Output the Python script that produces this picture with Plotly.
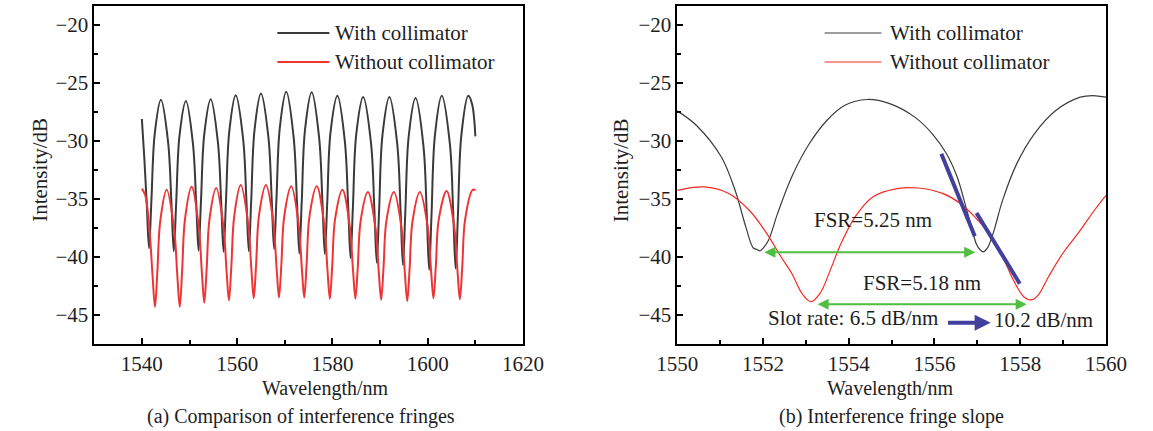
import plotly.graph_objects as go

# ---------------- data ----------------
# (a) full range, with collimator (black)
bx1 = [1540.0, 1540.5, 1541.0,
       1541.5, 1542.0, 1542.7, 1544.0, 1545.5, 1546.2,
       1546.7, 1547.2, 1547.9, 1549.25, 1550.7, 1551.4,
       1551.9, 1552.4, 1553.1, 1554.45, 1555.95, 1556.65,
       1557.15, 1557.65, 1558.35, 1559.7, 1561.25, 1561.95,
       1562.45, 1562.95, 1563.65, 1565.0, 1566.55, 1567.25,
       1567.75, 1568.25, 1568.95, 1570.3, 1571.85, 1572.55,
       1573.05, 1573.55, 1574.25, 1575.65, 1577.2, 1577.9,
       1578.4, 1578.9, 1579.6, 1581.05, 1582.6, 1583.3,
       1583.8, 1584.3, 1585.0, 1586.45, 1588.1, 1588.8,
       1589.3, 1589.8, 1590.5, 1591.95, 1593.6, 1594.3,
       1594.8, 1595.3, 1596.0, 1597.45, 1599.1, 1599.8,
       1600.3, 1600.8, 1601.5, 1602.95, 1604.65, 1605.35,
       1605.85, 1606.35, 1607.05, 1608.5, 1609.3, 1610.0]
by1 = [-28.1, -31.4, -35.2,
       -39.25, -35.15, -29.39, -26.45, -30.1, -35.32,
       -39.5, -35.36, -29.53, -26.55, -30.16, -35.32,
       -39.45, -35.27, -29.4, -26.4, -30.08, -35.34,
       -39.55, -35.23, -29.16, -26.05, -29.82, -35.2,
       -39.5, -35.15, -29.03, -25.9, -29.65, -35.01,
       -39.3, -34.96, -28.87, -25.75, -29.66, -35.24,
       -39.7, -35.25, -29.0, -25.8, -29.71, -35.29,
       -39.75, -35.38, -29.24, -26.1, -30.02, -35.62,
       -40.1, -35.65, -29.4, -26.2, -30.2, -35.92,
       -40.5, -35.92, -29.49, -26.2, -30.26, -36.06,
       -40.7, -36.09, -29.61, -26.3, -30.44, -36.36,
       -41.1, -36.3, -29.55, -26.1, -30.27, -36.23,
       -41.0, -36.23, -29.53, -26.1, -26.8, -29.6]

# (a) full range, without collimator (red)
rx1 = [1540.0, 1540.7, 1541.55, 1542.25,
       1542.75, 1543.25, 1543.85, 1545.2, 1546.75, 1547.45,
       1547.95, 1548.45, 1549.05, 1550.45, 1551.9, 1552.6,
       1553.1, 1553.6, 1554.2, 1555.6, 1557.08, 1557.78,
       1558.28, 1558.78, 1559.38, 1560.75, 1562.28, 1562.98,
       1563.48, 1563.98, 1564.58, 1566.05, 1567.58, 1568.28,
       1568.78, 1569.28, 1569.88, 1571.35, 1572.88, 1573.58,
       1574.08, 1574.58, 1575.18, 1576.7, 1578.25, 1578.95,
       1579.45, 1579.95, 1580.55, 1582.1, 1583.62, 1584.32,
       1584.82, 1585.32, 1585.92, 1587.45, 1589.02, 1589.72,
       1590.22, 1590.72, 1591.32, 1592.9, 1594.5, 1595.2,
       1595.7, 1596.2, 1596.8, 1598.35, 1600.0, 1600.7,
       1601.2, 1601.7, 1602.3, 1603.95, 1605.55, 1606.25,
       1606.75, 1607.25, 1607.85, 1609.45, 1610.0]
ry1 = [-34.1, -34.66, -37.43, -41.64,
       -44.3, -41.27, -36.93, -34.2, -37.53, -41.67,
       -44.3, -41.2, -36.74, -33.95, -37.25, -41.35,
       -43.95, -40.98, -36.72, -34.05, -37.25, -41.23,
       -43.75, -40.77, -36.49, -33.8, -37.02, -41.02,
       -43.56, -40.63, -36.43, -33.8, -37.0, -40.98,
       -43.5, -40.62, -36.49, -33.9, -37.07, -41.0,
       -43.5, -40.62, -36.49, -33.9, -37.1, -41.08,
       -43.6, -40.78, -36.74, -34.2, -37.3, -41.16,
       -43.6, -40.84, -36.88, -34.4, -37.47, -41.28,
       -43.7, -40.91, -36.91, -34.4, -37.5, -41.36,
       -43.8, -40.98, -36.94, -34.4, -37.42, -41.18,
       -43.56, -40.78, -36.8, -34.3, -37.39, -41.22,
       -43.65, -40.82, -36.75, -34.2, -34.25]

# (b) zoomed range, with collimator (black)
bx2 = [1550.0, 1550.45, 1551.03, 1551.35, 1551.6, 1551.77, 1551.86, 1551.93,
       1552.0, 1552.13, 1552.34, 1552.67, 1553.08, 1553.49, 1553.9, 1554.43,
       1554.97, 1555.54, 1555.95, 1556.28, 1556.53, 1556.69, 1556.86, 1556.98,
       1557.07, 1557.14, 1557.22, 1557.27, 1557.39, 1557.59, 1557.92, 1558.33,
       1558.83, 1559.4, 1559.69, 1560.0]
by2 = [-27.4, -28.66, -31.38, -34.25, -37.4, -39.2, -39.35, -39.47,
       -39.25, -38.55, -36.26, -33.1, -30.24, -28.23, -26.94, -26.42,
       -26.8, -27.94, -29.38, -31.1, -33.1, -35.1, -37.4, -38.9,
       -39.4, -39.55, -39.3, -38.98, -37.7, -35.1, -31.95, -29.38,
       -27.37, -26.22, -26.08, -26.22]

# (b) zoomed range, without collimator (red)
rx2 = [1550.0, 1550.62, 1551.19, 1551.68, 1552.09, 1552.42, 1552.67, 1552.91,
       1553.12, 1553.33, 1553.57, 1553.82, 1554.15, 1554.56, 1555.13, 1555.62,
       1556.2, 1556.61, 1556.94, 1557.27, 1557.59, 1557.84, 1558.08, 1558.25,
       1558.42, 1558.66, 1558.99, 1559.4, 1559.73, 1560.0]
ry2 = [-34.25, -33.96, -34.5, -35.97, -37.98, -39.98, -41.4, -43.14,
       -43.85, -43.14, -41.13, -38.84, -36.54, -34.82, -34.1, -34.05,
       -34.54, -35.4, -36.54, -37.98, -39.98, -41.99, -43.42, -43.7,
       -43.28, -41.7, -39.7, -37.7, -35.97, -34.68]

# slope marks (purple) in (b)
slope1_x = [1556.16, 1556.94]
slope1_y = [-31.1, -38.2]
slope2_x = [1556.98, 1557.99]
slope2_y = [-36.2, -42.3]

# FSR arrows in (b)
fsr1_x = [1552.0, 1556.95]
fsr1_y = -39.6
fsr2_x = [1553.24, 1558.15]
fsr2_y = -44.08

series_names = ["With collimator", "Without collimator"]
x_ticks_a = [1540, 1560, 1580, 1600, 1620]
x_ticks_b = [1550, 1552, 1554, 1556, 1558, 1560]
y_ticks = [-45, -40, -35, -30, -25, -20]

# ---------------- styling ----------------
W, H = 1153, 431
FONT = "Liberation Serif, Times New Roman, serif"
FS = 21
FS_T = 20
TXT = "#1e1e1e"
BLACK_A, RED_A = "#3a3a3a", "#ee3434"
BLACK_B, RED_B = "#3c3c3c", "#f52a22"
PURPLE = "#42409c"
GREEN = "#4fbf3f"


def fx(p):
    return p / W


def fy(p):
    return 1 - p / H


fig = go.Figure()
fig.add_trace(go.Scatter(x=bx1, y=by1, mode="lines", name=series_names[0],
                         line=dict(color=BLACK_A, width=2, shape="spline", smoothing=1),
                         xaxis="x", yaxis="y", showlegend=False))
fig.add_trace(go.Scatter(x=rx1, y=ry1, mode="lines", name=series_names[1],
                         line=dict(color=RED_A, width=2, shape="spline", smoothing=1),
                         xaxis="x", yaxis="y", showlegend=False))
fig.add_trace(go.Scatter(x=bx2, y=by2, mode="lines", name=series_names[0],
                         line=dict(color=BLACK_B, width=1.2, shape="spline", smoothing=1),
                         xaxis="x2", yaxis="y2", showlegend=False))
fig.add_trace(go.Scatter(x=rx2, y=ry2, mode="lines", name=series_names[1],
                         line=dict(color=RED_B, width=1.2, shape="spline", smoothing=1),
                         xaxis="x2", yaxis="y2", showlegend=False))
for sx, sy in ((slope1_x, slope1_y), (slope2_x, slope2_y)):
    fig.add_trace(go.Scatter(x=sx, y=sy, mode="lines", line=dict(color=PURPLE, width=4),
                             xaxis="x2", yaxis="y2", showlegend=False, hoverinfo="skip"))

axis_common = dict(showline=True, linecolor="black", linewidth=1.5, mirror=True,
                   ticks="inside", ticklen=6, tickwidth=1.5, tickcolor="black",
                   showgrid=False, zeroline=False,
                   tickfont=dict(family=FONT, size=FS, color=TXT))
ydom = [87 / H, 425 / H]
yr = [-47.5, -18.36]

fig.update_layout(
    width=W, height=H, autosize=False,
    margin=dict(l=0, r=0, t=0, b=0),
    paper_bgcolor="white", plot_bgcolor="white",
    font=dict(family=FONT, size=FS, color=TXT),
    xaxis=dict(domain=[76 / W, 521 / W], range=[1530, 1620], anchor="y",
               tickmode="array", tickvals=x_ticks_a,
               minor=dict(dtick=10, tick0=1530, ticks="inside", ticklen=4, tickwidth=1.5, tickcolor="black"),
               **axis_common),
    yaxis=dict(domain=ydom, range=yr, anchor="x",
               tickmode="array", tickvals=y_ticks,
               minor=dict(dtick=2.5, tick0=-45, ticks="inside", ticklen=4, tickwidth=1.5, tickcolor="black"),
               **axis_common),
    xaxis2=dict(domain=[681 / W, 1126 / W], range=[1550, 1560], anchor="y2",
                tickmode="array", tickvals=x_ticks_b,
                minor=dict(dtick=1, tick0=1550, ticks="inside", ticklen=4, tickwidth=1.5, tickcolor="black"),
                **axis_common),
    yaxis2=dict(domain=ydom, range=yr, anchor="x2",
                tickmode="array", tickvals=y_ticks,
                minor=dict(dtick=2.5, tick0=-45, ticks="inside", ticklen=4, tickwidth=1.5, tickcolor="black"),
                **axis_common),
)

ann = []
shapes = []
# axis titles & captions
for xc in (19.5, 623):
    ann.append(dict(text="Intensity/dB", x=fx(xc), y=fy(170), xref="paper", yref="paper",
                    textangle=-90, showarrow=False, xanchor="center", yanchor="middle",
                    font=dict(family=FONT, size=FS, color=TXT)))
for xc in (316, 902):
    ann.append(dict(text="Wavelength/nm", x=fx(xc), y=fy(388), xref="paper", yref="paper",
                    showarrow=False, xanchor="center", yanchor="middle",
                    font=dict(family=FONT, size=FS_T, color=TXT)))
ann.append(dict(text="(a) Comparison of interference fringes", x=fx(291), y=fy(416),
                xref="paper", yref="paper", showarrow=False, xanchor="center", yanchor="middle",
                font=dict(family=FONT, size=FS_T, color=TXT)))
ann.append(dict(text="(b) Interference fringe slope", x=fx(903), y=fy(416),
                xref="paper", yref="paper", showarrow=False, xanchor="center", yanchor="middle",
                font=dict(family=FONT, size=FS_T, color=TXT)))

# legends (drawn manually)
legends = [((266, 320, 324), (BLACK_A, RED_A), 2), ((834, 893, 900), (BLACK_B, RED_B), 1.2)]
for (x0, x1, xt), cols, lw in legends:
    for i, (name, col) in enumerate(zip(series_names, cols)):
        yy = 33 + 29 * i
        shapes.append(dict(type="line", xref="paper", yref="paper", x0=fx(x0), x1=fx(x1),
                           y0=fy(yy), y1=fy(yy), line=dict(color=col, width=lw)))
        ann.append(dict(text=name, x=fx(xt), y=fy(yy), xref="paper", yref="paper",
                        showarrow=False, xanchor="left", yanchor="middle",
                        font=dict(family=FONT, size=FS, color=TXT)))

# FSR arrows (double headed)
for (xa, xb), yv in ((fsr1_x, fsr1_y), (fsr2_x, fsr2_y)):
    ann.append(dict(x=xb, y=yv, ax=xa, ay=yv, xref="x2", yref="y2", axref="x2", ayref="y2",
                    text="", showarrow=True, arrowhead=2, arrowside="end+start",
                    arrowsize=1.1, arrowwidth=2, arrowcolor=GREEN, standoff=0, startstandoff=0))
# slope arrow
ann.append(dict(x=1557.31, y=-45.66, ax=1556.28, ay=-45.66, xref="x2", yref="y2",
                axref="x2", ayref="y2", text="", showarrow=True, arrowhead=2,
                arrowsize=0.8, arrowwidth=4, arrowcolor=PURPLE, standoff=0))
# texts in (b)
for txt, xv, yv in (("FSR=5.25 nm", 1554.56, -36.8), ("FSR=5.18 nm", 1555.7, -42.25),
                    ("Slot rate: 6.5 dB/nm", 1554.1, -45.3), ("10.2 dB/nm", 1558.54, -45.4)):
    ann.append(dict(text=txt, x=xv, y=yv, xref="x2", yref="y2", showarrow=False,
                    xanchor="center", yanchor="middle", font=dict(family=FONT, size=FS, color=TXT)))

fig.update_layout(annotations=ann, shapes=shapes)
fig.write_html("out.html")
